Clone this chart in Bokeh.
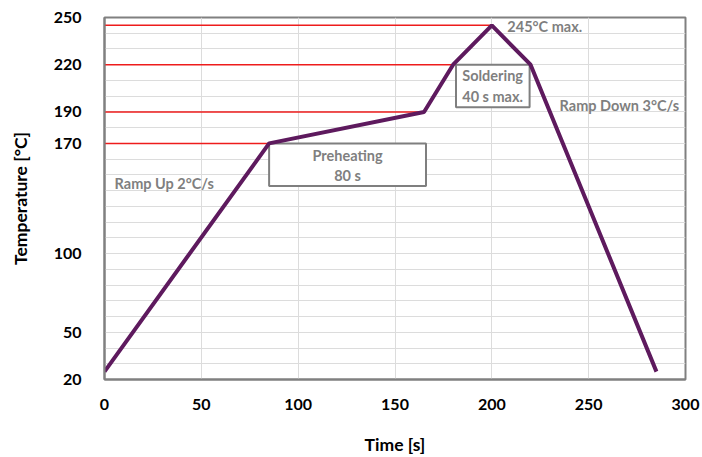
from bokeh.plotting import figure
from bokeh.models import FixedTicker, Range1d, Label
from bokeh.embed import file_html
from bokeh.resources import INLINE

# Reflow profile data
time_s = [0, 85, 165, 180, 200, 220, 285]
temp_c = [25, 170, 190, 220, 245, 220, 25]

# Red reference levels and where they meet the profile
ref_levels = [170, 190, 220, 245]
ref_ends = [85, 165, 180, 200]

y_ticks = [20, 50, 100, 170, 190, 220, 250]
x_ticks = [0, 50, 100, 150, 200, 250, 300]

# Boxes: (left, right, bottom, top)
box_left = [85, 181.5]
box_right = [166, 219.5]
box_bottom = [143, 193]
box_top = [170, 220]

FONT = "Lato"
GRAY = "#7f7f7f"

p = figure(width=702, height=457, output_backend="svg", toolbar_location=None,
           x_range=Range1d(0, 300), y_range=Range1d(20, 250),
           min_border_left=104, min_border_top=17, min_border_right=17, min_border_bottom=78)

p.background_fill_color = "white"
p.border_fill_color = "white"
p.outline_line_color = "#808080"
p.outline_line_width = 2

p.xaxis.ticker = FixedTicker(ticks=x_ticks)
p.yaxis.ticker = FixedTicker(ticks=y_ticks)
p.xgrid.ticker = FixedTicker(ticks=x_ticks)
p.ygrid.ticker = FixedTicker(ticks=list(range(20, 251, 10)))
for g in (p.xgrid, p.ygrid):
    g.grid_line_color = "#dcdcdc"
    g.grid_line_width = 1

for ax in (p.xaxis, p.yaxis):
    ax.major_tick_line_color = None
    ax.minor_tick_line_color = None
    ax.axis_line_color = "#808080"
    ax.axis_line_width = 2
    ax.major_label_text_font = FONT
    ax.major_label_text_font_style = "bold"
    ax.major_label_text_font_size = "16px"
    ax.major_label_text_color = "black"
    ax.axis_label_text_font = FONT
    ax.axis_label_text_font_style = "bold"
    ax.axis_label_text_font_size = "17.5px"
    ax.axis_label_text_color = "black"

p.xaxis.axis_label = "Time [s]"
p.yaxis.axis_label = "Temperature [°C]"
p.xaxis.major_label_standoff = 13
p.xaxis.axis_label_standoff = 21
p.yaxis.major_label_standoff = 17
p.yaxis.axis_label_standoff = 20

# Red reference lines
p.segment(x0=[0] * len(ref_levels), y0=ref_levels, x1=ref_ends, y1=ref_levels,
          line_color="#ee1c1c", line_width=1.5)

# Annotation boxes
p.quad(left=box_left, right=box_right, bottom=box_bottom, top=box_top,
       fill_color="white", line_color=GRAY, line_width=2)

# Profile
p.line(time_s, temp_c, line_color="#5e1a5e", line_width=4)

def add_label(x, y, text, align="left"):
    p.add_layout(Label(x=x, y=y, text=text, text_font=FONT, text_font_size="14.5px",
                       text_color=GRAY, text_font_style="bold", text_align=align,
                       text_baseline="middle"))

add_label(208, 244.3, "245°C max.")
add_label(5.2, 144.5, "Ramp Up 2°C/s")
add_label(235, 194, "Ramp Down 3°C/s")
add_label(125.5, 162.3, "Preheating", "center")
add_label(125.5, 149.6, "80 s", "center")
add_label(200.4, 213, "Soldering", "center")
add_label(200.4, 199.8, "40 s max.", "center")

open("out.html", "w").write(file_html(p, INLINE))
